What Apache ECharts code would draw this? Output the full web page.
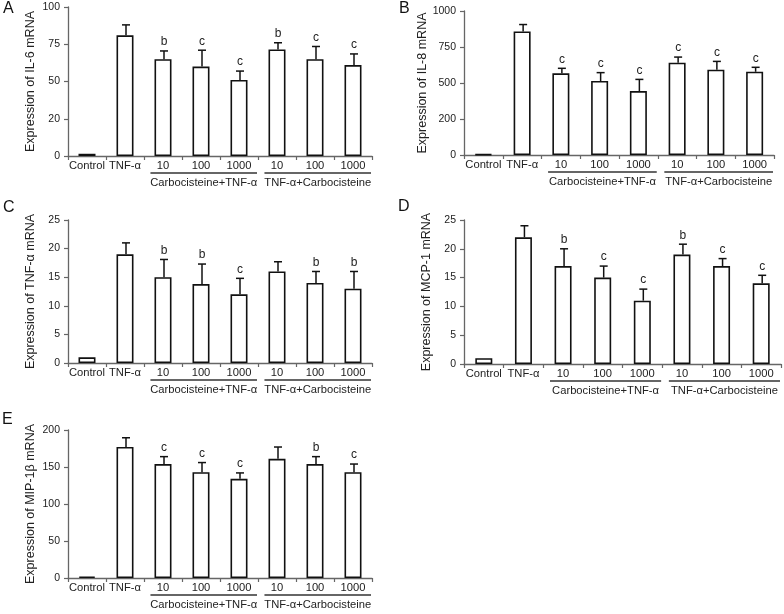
<!DOCTYPE html>
<html><head><meta charset="utf-8">
<script src="https://cdn.jsdelivr.net/npm/echarts@6/dist/echarts.min.js"></script>
<style>html,body{margin:0;padding:0;background:#fff}#c{width:784px;height:614px}</style>
</head><body><div id="c"></div>
<script>
const categories = ['Control', 'TNF-α', '10', '100', '1000', '10', '100', '1000'];
const groupLabels = ['Carbocisteine+TNF-α', 'TNF-α+Carbocisteine'];
const panelLetters = ['A', 'B', 'C', 'D', 'E'];
const yTitles = ['Expression of IL-6 mRNA', 'Expression of IL-8 mRNA', 'Expression of TNF-α mRNA', 'Expression of MCP-1 mRNA', 'Expression of MIP-1β mRNA'];

const ticksA = ['0', '20', '50', '75', '100'];
const ticksB = ['0', '200', '500', '750', '1000'];
const ticksC = ['0', '5', '10', '15', '20', '25'];
const ticksD = ['0', '5', '10', '15', '20', '25'];
const ticksE = ['0', '50', '100', '150', '200'];
const yMax = [100, 1000, 25, 25, 200];
const yStep = [25, 250, 5, 5, 50];

const meanA = [1.5, 81, 65, 60, 51, 71.5, 65, 61];
const errA  = [0, 7, 5.5, 11, 6, 4.5, 8.5, 7.5];
const sigA  = ['', '', 'b', 'c', 'c', 'b', 'c', 'c'];

const meanB = [5, 858, 567, 514, 444, 641, 592, 578];
const errB  = [0, 48, 35, 58, 81, 39, 58, 31];
const sigB  = ['', '', 'c', 'c', 'c', 'c', 'c', 'c'];

const meanC = [1, 19, 15, 13.8, 12, 16, 14, 13];
const errC  = [0, 2, 3.1, 3.5, 2.8, 1.7, 2, 3];
const sigC  = ['', '', 'b', 'b', 'c', '', 'b', 'b'];

const meanD = [1, 22, 17, 15, 11, 19, 17, 14];
const errD  = [0, 2, 3, 2, 2, 1.8, 1.3, 1.4];
const sigD  = ['', '', 'b', 'c', 'c', 'b', 'c', 'c'];

const meanE = [2, 177, 154, 143, 134, 161, 154, 143];
const errE  = [0, 12.5, 10, 13, 8, 16, 10, 11];
const sigE  = ['', '', 'c', 'c', 'c', '', 'b', 'c'];

const groupSpans = [[2, 4], [5, 7]];

const panels = [
  {mean: meanA, err: errA, sig: sigA, ticks: ticksA},
  {mean: meanB, err: errB, sig: sigB, ticks: ticksB},
  {mean: meanC, err: errC, sig: sigC, ticks: ticksC},
  {mean: meanD, err: errD, sig: sigD, ticks: ticksD},
  {mean: meanE, err: errE, sig: sigE, ticks: ticksE}
];

const grids = [
  {left: 68, top: 7, width: 304, height: 149},
  {left: 464, top: 11, width: 310, height: 144},
  {left: 68, top: 220, width: 304, height: 143},
  {left: 464, top: 220, width: 317, height: 144},
  {left: 68, top: 430, width: 304, height: 148}
];
const letterPos = [[3, 1], [399, 1], [3, 200], [398, 199], [2, 412]];

const FONT = 'Liberation Sans, Arial, sans-serif';
const TXT = '#222';
const AX = '#666';

const option = {
  animation: false,
  backgroundColor: '#fff',
  textStyle: {fontFamily: FONT},
  title: panelLetters.map((t, i) => ({
    text: t, left: letterPos[i][0], top: letterPos[i][1], padding: 0,
    textStyle: {fontSize: 16, fontWeight: 'normal', color: '#111', fontFamily: FONT}
  })),
  grid: grids,
  xAxis: panels.map((p, i) => ({
    type: 'category', gridIndex: i, data: categories,
    axisLine: {lineStyle: {color: AX, width: 1.3}},
    axisTick: {show: true, length: 4, interval: 0, lineStyle: {color: AX, width: 1.2}},
    axisLabel: {interval: 0, fontSize: 11.2, color: TXT, margin: 4, fontFamily: FONT}
  })),
  yAxis: panels.map((p, i) => ({
    type: 'value', gridIndex: i, min: 0, max: yMax[i], interval: yStep[i],
    name: yTitles[i], nameLocation: 'middle', nameGap: 31, nameRotate: 90,
    nameTextStyle: {fontSize: 12.5, color: TXT, fontFamily: FONT},
    axisLine: {show: true, lineStyle: {color: AX, width: 1.3}},
    axisTick: {show: true, length: 4, lineStyle: {color: AX, width: 1.2}},
    splitLine: {show: false},
    axisLabel: {fontSize: 10.5, color: TXT, margin: 8, fontFamily: FONT,
      formatter: v => p.ticks[Math.round(v / yStep[i])]}
  })),
  series: []
};

panels.forEach((p, i) => {
  option.series.push({
    type: 'bar', xAxisIndex: i, yAxisIndex: i, data: p.mean, barWidth: 17,
    itemStyle: {color: '#fff', borderColor: '#111', borderWidth: 1.6}
  });
  option.series.push({
    type: 'custom', xAxisIndex: i, yAxisIndex: i, z: 5, clip: false,
    data: p.mean.map((m, k) => [k, m, p.err[k]]),
    encode: {x: 0, y: 1},
    renderItem: (params, api) => {
      const k = api.value(0), m = api.value(1), e = api.value(2);
      const base = api.coord([k, m]);
      const top = api.coord([k, m + e]);
      const ch = [];
      const cx = base[0] + 1;
      if (e > 0) {
        ch.push({type: 'line', shape: {x1: cx, y1: base[1], x2: cx, y2: top[1]},
          style: {stroke: '#111', lineWidth: 1.5}});
        ch.push({type: 'line', shape: {x1: cx - 4, y1: top[1], x2: cx + 4, y2: top[1]},
          style: {stroke: '#111', lineWidth: 1.5}});
      }
      const s = p.sig[params.dataIndex];
      if (s) {
        ch.push({type: 'text', x: cx, y: top[1] - 3,
          style: {text: s, fill: TXT, fontSize: 12, fontFamily: FONT, align: 'center', verticalAlign: 'bottom'}});
      }
      return {type: 'group', children: ch};
    }
  });
  option.series.push({
    type: 'custom', xAxisIndex: i, yAxisIndex: i, z: 5, clip: false, silent: true,
    data: groupSpans.map((g, k) => [g[0], g[1], k]),
    encode: {x: [0, 1]},
    renderItem: (params, api) => {
      const s = api.value(0), e = api.value(1);
      const band = api.size([1, 0])[0];
      const p1 = api.coord([s, 0]), p2 = api.coord([e, 0]);
      const x1 = p1[0] - band / 2 + band * 0.17;
      const x2 = p2[0] + band / 2 - 1;
      const y = p1[1] + 17;
      return {type: 'group', children: [
        {type: 'line', shape: {x1: x1, y1: y, x2: x2, y2: y}, style: {stroke: '#333', lineWidth: 1.3}},
        {type: 'text', x: (x1 + x2) / 2, y: y + 4,
          style: {text: groupLabels[params.dataIndex], fill: TXT, fontSize: 11.2, fontFamily: FONT, align: 'center', verticalAlign: 'top'}}
      ]};
    }
  });
});

const chart = echarts.init(document.getElementById('c'), null, {renderer: 'canvas'});
chart.setOption(option);
</script>
</body></html>
